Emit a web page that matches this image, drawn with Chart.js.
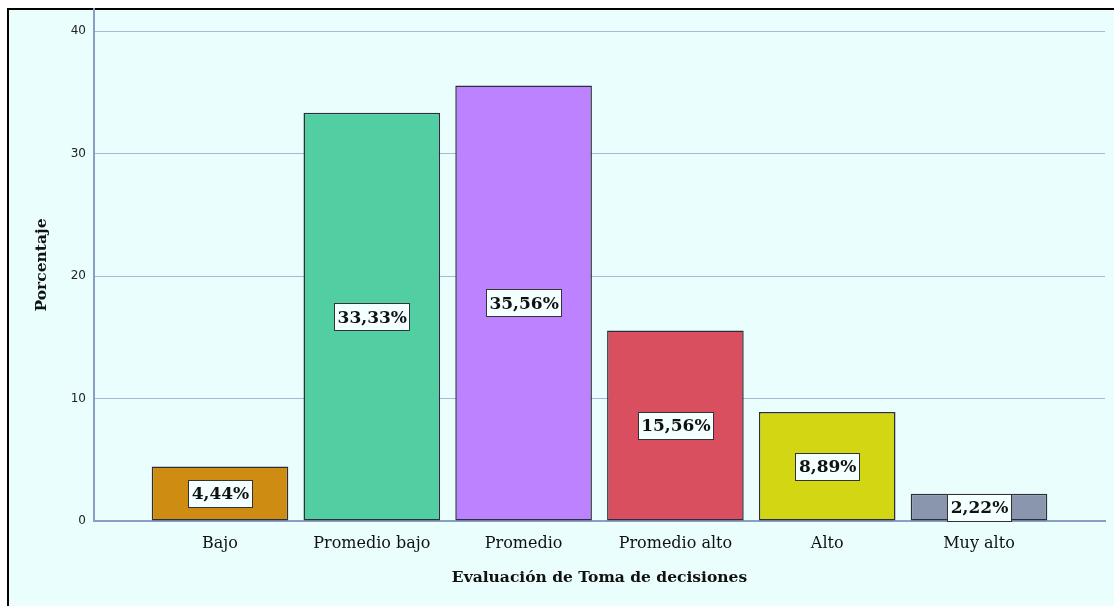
<!DOCTYPE html>
<html>
<head>
<meta charset="utf-8">
<script src="https://cdn.jsdelivr.net/npm/chart.js@4.4.1/dist/chart.umd.min.js"></script>
<style>
html,body{margin:0;padding:0;background:#fff;overflow:hidden;width:1114px;height:606px;}
#frame{position:absolute;left:7px;top:8px;width:1105px;height:596px;border-left:2px solid #000;border-top:2px solid #000;background:#EAFEFE;}
#wrap{position:absolute;left:0;top:0;width:1114px;height:606px;}
</style>
</head>
<body>
<div id="frame"></div>
<div id="wrap"><canvas id="chart"></canvas></div>
<script>
// DATA
const categories = ["Bajo","Promedio bajo","Promedio","Promedio alto","Alto","Muy alto"];
const percentages = [4.44, 33.33, 35.56, 15.56, 8.89, 2.22];
const pctLabels = ["4,44%","33,33%","35,56%","15,56%","8,89%","2,22%"];
const yTicks = [0, 10, 20, 30, 40];
const barColors = ["#CF8C12","#52CEA3","#BC82FF","#DA4F5F","#D3D713","#8A96AE"];

const serif = "'DejaVu Serif', serif";

// value boxes in the middle of each bar
const boxLabels = {
    id: "boxLabels",
    afterDatasetsDraw(chart){
        const ctx = chart.ctx;
        const meta = chart.getDatasetMeta(0);
        ctx.save();
        ctx.font = "bold 17px " + serif;
        ctx.textAlign = "center";
        ctx.textBaseline = "middle";
        meta.data.forEach((bar, i) => {
            const txt = pctLabels[i];
            const cy = (bar.y + bar.base) / 2;
            const w = Math.round(ctx.measureText(txt).width + 6);
            const h = 27;
            const x0 = Math.round(bar.x - w/2), y0 = Math.round(cy - h/2);
            ctx.fillStyle = "#F4FFFF";
            ctx.fillRect(x0, y0, w, h);
            ctx.strokeStyle = "#333";
            ctx.lineWidth = 1;
            ctx.strokeRect(x0 + 0.5, y0 + 0.5, w, h);
            ctx.fillStyle = "#111";
            ctx.fillText(txt, bar.x + 0.5, cy + 1.5);
        });
        ctx.restore();
    }
};

new Chart(document.getElementById("chart"), {
    type: "bar",
    data: {
        datasets: [{
            data: percentages.map((v, i) => ({x: i, y: v})),
            backgroundColor: barColors,
            borderColor: "#2a2f3a",
            borderWidth: 1.5,
            borderSkipped: false,
            barPercentage: 0.9,
            categoryPercentage: 1
        }]
    },
    options: {
        responsive: true,
        maintainAspectRatio: false,
        animation: false,
        layout: {padding: {top: 9, right: 9, left: 0, bottom: 0}},
        plugins: {legend: {display: false}, tooltip: {enabled: false}},
        scales: {
            x: {
                type: "linear",
                min: -0.83,
                max: 5.83,
                offset: false,
                afterBuildTicks: s => { s.ticks = categories.map((c, i) => ({value: i})); },
                afterFit: s => { s.height = 85; s.paddingLeft = 0; s.paddingRight = 0; },
                grid: {display: false, drawTicks: false, offset: false},
                border: {color: "#8A9EC4", width: 2},
                ticks: {
                    callback: v => categories[v],
                    padding: 13,
                    color: "#111",
                    font: {family: serif, size: 16}
                },
                title: {
                    display: true,
                    text: "Evaluación de Toma de decisiones",
                    color: "#111",
                    font: {family: serif, size: 15.5, weight: "bold"},
                    padding: {top: 0, bottom: 19}
                }
            },
            y: {
                min: 0,
                max: 41.8,
                afterBuildTicks: s => { s.ticks = yTicks.map(v => ({value: v})); },
                afterFit: s => { s.width = 94; s.paddingTop = 0; s.paddingBottom = 0; },
                grid: {color: "#A6B8D8", lineWidth: 1, drawTicks: false},
                border: {color: "#8A9EC4", width: 2},
                ticks: {
                    padding: 8,
                    color: "#222",
                    font: {family: "'DejaVu Sans', sans-serif", size: 12}
                },
                title: {
                    display: true,
                    text: "Porcentaje",
                    color: "#111",
                    font: {family: serif, size: 15.5, weight: "bold"},
                    padding: {top: 33, bottom: 0}
                }
            }
        }
    },
    plugins: [boxLabels]
});
</script>
</body>
</html>
